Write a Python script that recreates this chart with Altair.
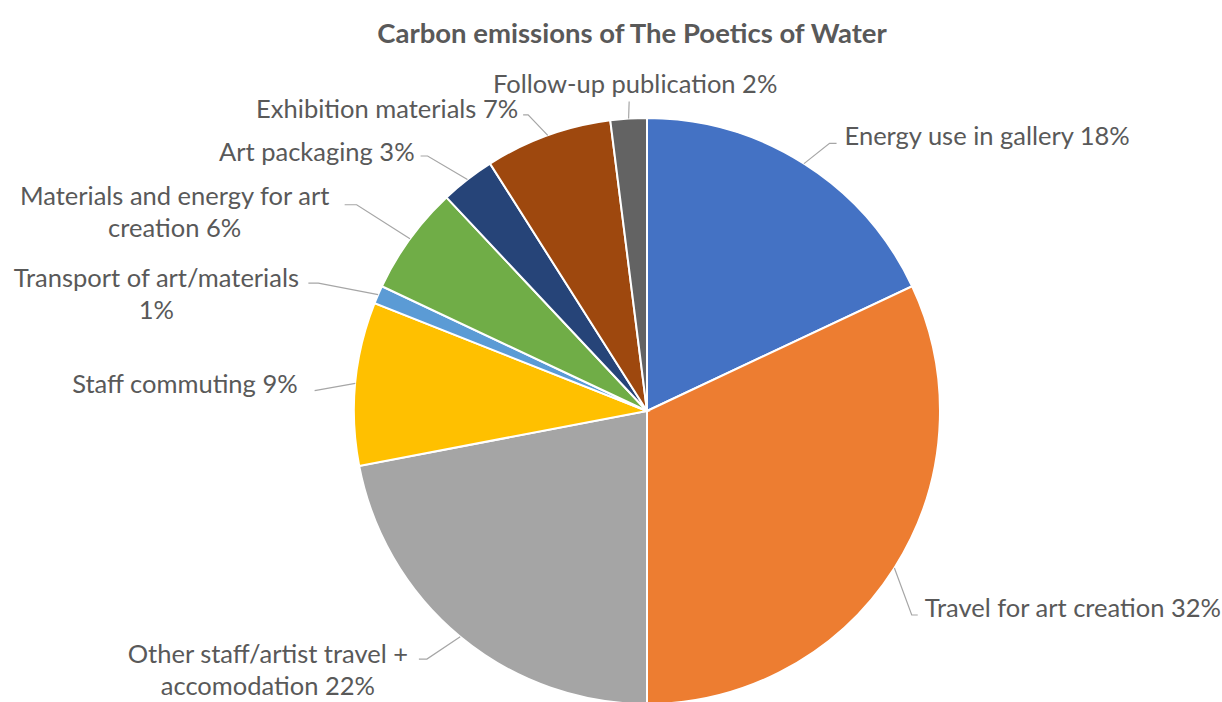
import math

import altair as alt
import pandas as pd

# --- data -------------------------------------------------------------------
categories = [
    "Energy use in gallery",
    "Travel for art creation",
    "Other staff/artist travel + accomodation",
    "Staff commuting",
    "Transport of art/materials",
    "Materials and energy for art creation",
    "Art packaging",
    "Exhibition materials",
    "Follow-up publication",
]
shares = [18, 32, 22, 9, 1, 6, 3, 7, 2]
colors = ["#4472C4", "#ED7D31", "#A5A5A5", "#FFC000", "#5B9BD5",
          "#70AD47", "#264478", "#9E480E", "#636363"]
label_lines = [
    ["Energy use in gallery 18%"],
    ["Travel for art creation 32%"],
    ["Other staff/artist travel +", "accomodation 22%"],
    ["Staff commuting 9%"],
    ["Transport of art/materials", "1%"],
    ["Materials and energy for art", "creation 6%"],
    ["Art packaging 3%"],
    ["Exhibition materials 7%"],
    ["Follow-up publication 2%"],
]
title_text = "Carbon emissions of The Poetics of Water"

# --- layout -----------------------------------------------------------------
W, H = 1222, 702
CX, CY = 647, 411          # pie centre on the page
R = 293                    # pie radius
LINE_H = 32                # line spacing of wrapped labels
FONT = "Lato"
LABEL_SIZE = 25.5
TITLE_SIZE = 27.5
TEXT_COLOR = "#595959"
LEADER_COLOR = "#A6A6A6"

# label placement: angular shift from the slice middle, distance of the
# leader end from the centre, horizontal tail, and text offset from that end
label_delta = [2.9, 4.6, 3.0, -1.9, -2.7, -1.7, -3.8, -2.9, 0.3]
label_radius = [328, 339, 337, 333, 362, 366, 341, 321, 310]
tail = [7, 6, 8, 0, 10, 12, 7, 5, 0]
text_dx = [8, 7, -151, -17, -152, -170, -6, -5, 6]
text_dy = [6, 6, 4, 6, 4, 8, 3, 5, 17]
align = ["left", "left", "center", "right", "center", "center",
         "right", "right", "center"]


def polar(angle_deg, r):
    a = math.radians(angle_deg)
    return r * math.sin(a), r * math.cos(a)


total = sum(shares)
leader_rows, text_rows = [], []
cum = 0
for i, (cat, val) in enumerate(zip(categories, shares)):
    mid = (cum + val / 2) / total * 360
    cum += val
    ex, ey = polar(mid, R)
    ax, ay = polar(mid + label_delta[i], label_radius[i])
    side = 0 if align[i] == "center" and tail[i] == 0 else (1 if ax > 0 else -1)
    bx, by = ax - side * tail[i], ay
    for k, (px, py) in enumerate([(ex, ey), (bx, by), (ax, ay)]):
        leader_rows.append({"slice": cat, "step": k, "px": px, "py": py})
    for j, line in enumerate(label_lines[i]):
        text_rows.append({
            "slice": cat, "line": line, "align": align[i],
            "px": ax + text_dx[i], "py": ay + text_dy[i] - j * LINE_H,
        })

pie_df = pd.DataFrame({"category": categories, "share": shares,
                       "order": list(range(len(categories)))})
leader_df = pd.DataFrame(leader_rows)
text_df = pd.DataFrame(text_rows)

# page-pixel scales centred on the pie (y grows upward)
xs = alt.Scale(domain=[-CX, W - CX], range=[0, W], zero=False, nice=False)
ys = alt.Scale(domain=[CY - H, CY], range=[H, 0], zero=False, nice=False)

pie = alt.Chart(pie_df).mark_arc(
    outerRadius=R, stroke="white", strokeWidth=2
).encode(
    theta=alt.Theta("share:Q", stack=True),
    order=alt.Order("order:Q"),
    color=alt.Color("category:N",
                    scale=alt.Scale(domain=categories, range=colors),
                    legend=None),
    x=alt.value(CX),
    y=alt.value(CY),
)

leaders = alt.Chart(leader_df).mark_line(
    color=LEADER_COLOR, strokeWidth=1.2
).encode(
    x=alt.X("px:Q", scale=xs, axis=None),
    y=alt.Y("py:Q", scale=ys, axis=None),
    detail="slice:N",
    order="step:Q",
)


def label_layer(al):
    return alt.Chart(text_df[text_df["align"] == al]).mark_text(
        align=al, baseline="middle", font=FONT, fontSize=LABEL_SIZE,
        color=TEXT_COLOR
    ).encode(
        x=alt.X("px:Q", scale=xs, axis=None),
        y=alt.Y("py:Q", scale=ys, axis=None),
        text="line:N",
    )


title = alt.Chart(pd.DataFrame({"t": [title_text]})).mark_text(
    align="center", baseline="middle", font=FONT, fontSize=TITLE_SIZE,
    fontWeight="bold", color=TEXT_COLOR
).encode(x=alt.value(632), y=alt.value(35), text="t:N")

chart = alt.layer(
    pie, leaders, label_layer("left"), label_layer("right"),
    label_layer("center"), title
).properties(
    width=W, height=H, padding=0, autosize=alt.AutoSizeParams(type="none"),
    background="white"
).configure_view(stroke=None)

chart.save("out.html", embed_options={"renderer": "svg", "actions": False})
